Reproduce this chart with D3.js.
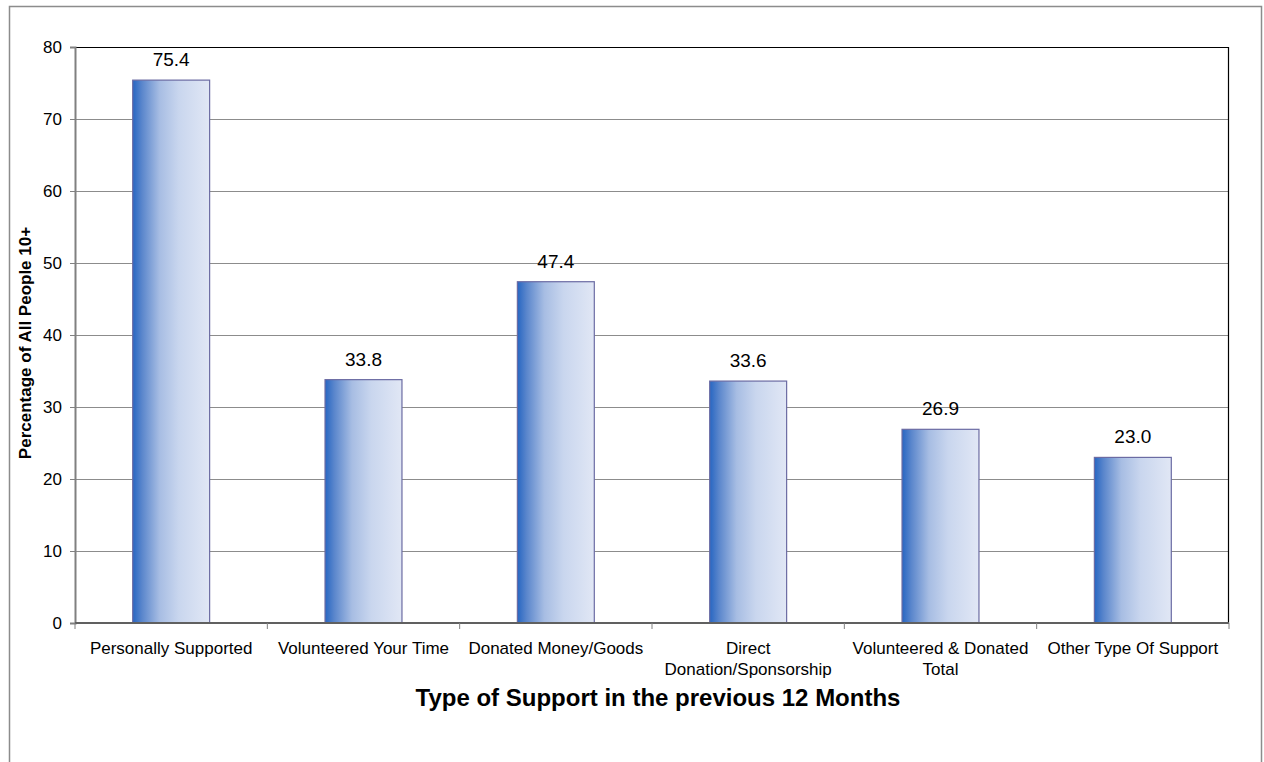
<!DOCTYPE html>
<html>
<head>
<meta charset="utf-8">
<script src="https://cdn.jsdelivr.net/npm/d3@7"></script>
<style>
  body { margin: 0; background: #fff; }
  svg { display: block; font-family: Arial, "Liberation Sans", sans-serif; }
</style>
</head>
<body>
<svg id="chart" width="1264" height="762"></svg>
<script>
// data
const categories = [
  ["Personally Supported"],
  ["Volunteered Your Time"],
  ["Donated Money/Goods"],
  ["Direct", "Donation/Sponsorship"],
  ["Volunteered & Donated", "Total"],
  ["Other Type Of Support"]
];
const values = [75.4, 33.8, 47.4, 33.6, 26.9, 23.0];
const yTicks = [0, 10, 20, 30, 40, 50, 60, 70, 80];

const svg = d3.select("#chart");
const W = 1264, H = 762;
const m = {left: 75, right: 35, top: 47, bottom: 139};
const pw = W - m.left - m.right, ph = H - m.top - m.bottom;

// outer chart border
svg.append("rect")
  .attr("x", 9.5).attr("y", 6.5)
  .attr("width", 1252).attr("height", 800)
  .attr("fill", "#fff").attr("stroke", "#8c8c8c").attr("stroke-width", 1.5);

const defs = svg.append("defs");
const grad = defs.append("linearGradient").attr("id", "barGrad")
  .attr("x1", "0%").attr("x2", "100%").attr("y1", "0%").attr("y2", "0%");
[[0, "#2766c2"], [0.12, "#5a86cc"], [0.35, "#a7bde3"], [0.6, "#c9d6ee"], [1, "#e1e7f5"]]
  .forEach(([o, c]) => grad.append("stop").attr("offset", o).attr("stop-color", c));

const g = svg.append("g").attr("transform", `translate(${m.left},${m.top})`);

const x = d3.scaleBand().domain(d3.range(categories.length)).range([0, pw]).paddingInner(0.6).paddingOuter(0.3);
const xOuter = d3.scaleBand().domain(d3.range(categories.length)).range([0, pw]);
const y = d3.scaleLinear().domain([0, 80]).range([ph, 0]);

// gridlines
g.selectAll("line.grid")
  .data(yTicks.filter(t => t > 0 && t < 80))
  .join("line")
  .attr("class", "grid")
  .attr("x1", 0).attr("x2", pw)
  .attr("y1", d => Math.round(y(d)) + 0.5).attr("y2", d => Math.round(y(d)) + 0.5)
  .attr("stroke", "#8c8c8c").attr("stroke-width", 1);

// plot border top and right
g.append("path")
  .attr("d", `M0,0.5H${pw - 0.5}V${ph}`)
  .attr("fill", "none").attr("stroke", "#000").attr("stroke-width", 1.2);

// bars
g.selectAll("rect.bar")
  .data(values)
  .join("rect")
  .attr("class", "bar")
  .attr("x", (d, i) => x(i))
  .attr("y", d => y(d))
  .attr("width", x.bandwidth())
  .attr("height", d => ph - y(d))
  .attr("fill", "url(#barGrad)")
  .attr("stroke", "#6b6ba3").attr("stroke-width", 1.2);

// value labels
g.selectAll("text.val")
  .data(values)
  .join("text")
  .attr("class", "val")
  .attr("x", (d, i) => x(i) + x.bandwidth() / 2)
  .attr("y", d => y(d) - 14)
  .attr("text-anchor", "middle")
  .attr("font-size", 19)
  .attr("fill", "#000")
  .text(d => d.toFixed(1));

// y axis
const yAxis = g.append("g")
  .call(d3.axisLeft(y).tickValues(yTicks).tickSize(5).tickPadding(8).tickFormat(d3.format("d")));
yAxis.select(".domain").attr("stroke", "#808080").attr("stroke-width", 2);
yAxis.selectAll(".tick line").attr("stroke", "#808080");
yAxis.selectAll(".tick text").attr("font-size", 17).attr("fill", "#000").attr("font-family", "Arial, 'Liberation Sans', sans-serif");

// x axis
const xAxisG = g.append("g").attr("transform", `translate(0,${ph})`);
xAxisG.append("line").attr("x1", 0).attr("x2", pw).attr("y1", 0).attr("y2", 0)
  .attr("stroke", "#606060").attr("stroke-width", 2);
xAxisG.selectAll("line.xt")
  .data(d3.range(categories.length + 1))
  .join("line")
  .attr("class", "xt")
  .attr("x1", i => i < categories.length ? xOuter(i) : pw)
  .attr("x2", i => i < categories.length ? xOuter(i) : pw)
  .attr("y1", 0).attr("y2", 6)
  .attr("stroke", "#808080");

const catText = xAxisG.selectAll("text.cat")
  .data(categories)
  .join("text")
  .attr("class", "cat")
  .attr("text-anchor", "middle")
  .attr("font-size", 17)
  .attr("fill", "#000")
  .attr("transform", (d, i) => `translate(${xOuter(i) + xOuter.bandwidth() / 2},0)`);
catText.each(function(lines) {
  const t = d3.select(this);
  lines.forEach((l, k) => t.append("tspan").attr("x", 0).attr("y", 31 + k * 21).text(l));
});

// axis titles
svg.append("text")
  .attr("transform", `translate(31,${m.top + ph / 2 + 8}) rotate(-90)`)
  .attr("text-anchor", "middle")
  .attr("font-size", 17).attr("font-weight", "bold")
  .text("Percentage of All People 10+");

svg.append("text")
  .attr("x", m.left + pw / 2 + 6).attr("y", 706)
  .attr("text-anchor", "middle")
  .attr("font-size", 24).attr("font-weight", "bold")
  .text("Type of Support in the previous 12 Months");
</script>
</body>
</html>
